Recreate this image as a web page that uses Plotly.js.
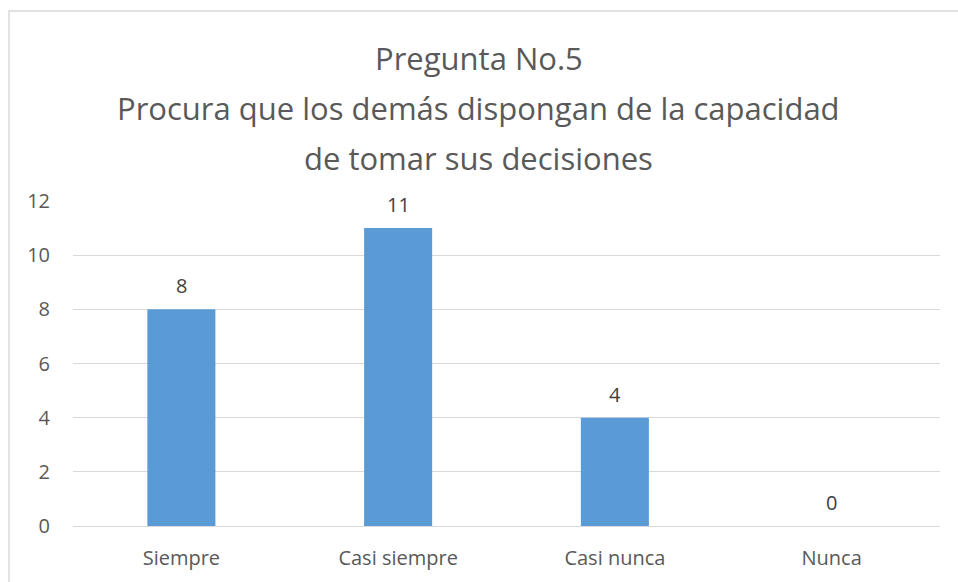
<!DOCTYPE html>
<html>
<head>
<meta charset="utf-8">
<script src="https://cdn.plot.ly/plotly-3.0.1.min.js"></script>
<style>
  html, body { margin: 0; padding: 0; background: #ffffff; }
  #chart { width: 958px; height: 582px; }
</style>
</head>
<body>
<div id="chart"></div>
<script>
// Respuestas a la pregunta 5
const categories = ["Siempre", "Casi siempre", "Casi nunca", "Nunca"];
const counts = [8, 11, 4, 0];
const yTicks = [0, 2, 4, 6, 8, 10, 12];
const titleLines = [
  "Pregunta No.5",
  "Procura que los demás dispongan de la capacidad",
  "de tomar sus decisiones"
];

const fontFamily = "Open Sans, Noto Sans, sans-serif";
const textColor = "#595959";

const bars = {
  type: "bar",
  x: categories,
  y: counts,
  marker: { color: "#5b9bd5" },
  width: 0.314,
  hoverinfo: "x+y"
};

// Value labels above each bar
const labels = categories.map((c, i) => ({
  x: c,
  y: counts[i],
  text: String(counts[i]),
  showarrow: false,
  xref: "x",
  yref: "y",
  yanchor: "bottom",
  yshift: 8,
  font: { family: fontFamily, size: 20, color: "#404040" }
}));

// Three-line chart title, one annotation per line for wider line spacing
const titleYs = [1.44, 1.286, 1.132];
const titleAnns = titleLines.map((t, i) => ({
  text: t,
  xref: "paper",
  yref: "paper",
  x: 0.468,
  y: titleYs[i],
  xanchor: "center",
  yanchor: "middle",
  showarrow: false,
  font: { family: fontFamily, size: 31, color: textColor }
}));

const layout = {
  width: 958,
  height: 582,
  margin: { l: 73, r: 18, t: 201, b: 56 },
  paper_bgcolor: "#ffffff",
  plot_bgcolor: "#ffffff",
  showlegend: false,
  xaxis: {
    type: "category",
    showgrid: false,
    showline: false,
    zeroline: false,
    ticks: "",
    ticklabelstandoff: 18,
    tickfont: { family: fontFamily, size: 20, color: textColor }
  },
  yaxis: {
    range: [0, 12],
    tickvals: yTicks,
    ticktext: yTicks.map(String),
    showgrid: true,
    gridcolor: "#d9d9d9",
    gridwidth: 1,
    zeroline: true,
    zerolinecolor: "#d9d9d9",
    zerolinewidth: 1,
    showline: false,
    ticks: "",
    ticklabelstandoff: 22,
    tickfont: { family: fontFamily, size: 20, color: textColor }
  },
  annotations: titleAnns.concat(labels),
  shapes: [{
    type: "rect",
    xref: "paper",
    yref: "paper",
    x0: -0.0738,
    x1: 1.2,
    y0: -0.4,
    y1: 1.585,
    line: { color: "#d9d9d9", width: 1.5 },
    fillcolor: "rgba(0,0,0,0)",
    layer: "below"
  }]
};

Plotly.newPlot("chart", [bars], layout, { displayModeBar: false, staticPlot: true });
</script>
</body>
</html>
